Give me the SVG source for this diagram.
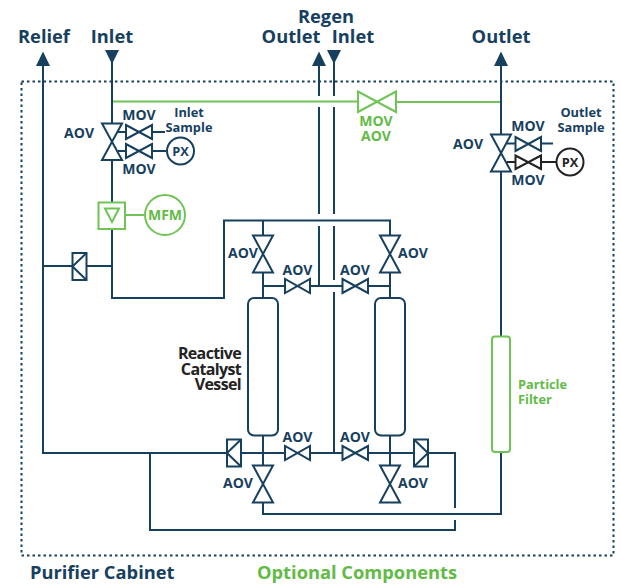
<svg xmlns="http://www.w3.org/2000/svg" width="621" height="586" viewBox="0 0 621 586">
<style>
text{font-family:"Open Sans","Liberation Sans",sans-serif;font-weight:700;fill:#17405f}
.h{font-size:18.3px}.s{font-size:14px}.t{font-size:12.8px}.v{font-size:16px;letter-spacing:-.65px;fill:#222}
.g{fill:#62bb46}.k{fill:#222}
.ln{fill:none;stroke:#17405f;stroke-width:2}
.gl{fill:none;stroke:#70c455;stroke-width:2}
.kl{fill:none;stroke:#222;stroke-width:2}
.ah{fill:#17405f;stroke:none}
</style>
<rect width="621" height="586" fill="#fff"/>
<rect id="cabinet" x="21.500" y="81.500" width="592" height="474" fill="none" stroke="#17405f" stroke-width="2" stroke-dasharray="2.500 3"/>
<g id="connectors">
<path class="ln" d="M43 62V453H227M241 453H285M310 453H342M368 453H414M428 453H455V508M455 520V530H150V453"/>
<path class="ln" d="M112 60V123M112 160V202M112 229V298H224V220.500H390V235M263 220.500V235M263 273V298M390 273V298"/>
<path class="ln" d="M43 266H72M86 266H112"/>
<path class="ln" d="M319 62V96M319 107V214M319 226V286M334 60V96M334 107V214M334 226V280M334 292V453"/>
<path class="ln" d="M263 286H285M310 286H342M368 286H390"/>
<path class="ln" d="M263 436V465M390 436V465M263 503V514H501V452M501 336V172M501 134V62"/>
<path class="ln" d="M118 132H126M152 132H165M118 151H126M152 151H166"/>
<path class="ln" d="M507 143.500H515M541 143.500H553"/>
<path class="kl" d="M507 162H515M541 162H556"/>
<path class="gl" d="M113 101.500H358M396 102H500M125 215H144"/>
<path class="ah" d="M36 66H50L43 51.500ZM105 50H119L112 64ZM312 66H326L319 51.500ZM327 50H341L334 64ZM494 66H508L501 51.500Z"/>
</g>
<g id="relief-label"><text class="h" x="44" y="43" text-anchor="middle">Relief</text></g>
<g id="inlet-label"><text class="h" x="112" y="43" text-anchor="middle">Inlet</text></g>
<g id="regen-labels"><text class="h" x="326" y="23" text-anchor="middle">Regen</text><text class="h" x="291" y="43" text-anchor="middle">Outlet</text><text class="h" x="353" y="43" text-anchor="middle">Inlet</text></g>
<g id="outlet-label"><text class="h" x="501" y="43" text-anchor="middle">Outlet</text></g>
<g id="aov-inlet"><path class="ln" d="M102 123.500H122L102 160H122Z"/><text class="s" x="94" y="138" text-anchor="end">AOV</text></g>
<g id="mov-inlet-1"><path class="ln" d="M126 125V139L152 125V139Z"/><text class="s" x="139" y="120" text-anchor="middle">MOV</text></g>
<g id="mov-inlet-2"><path class="ln" d="M126 144V158L152 144V158Z"/><text class="s" x="139" y="174" text-anchor="middle">MOV</text></g>
<g id="inlet-sample"><text class="t" x="189" y="116.500" text-anchor="middle">Inlet</text><text class="t" x="189" y="131.500" text-anchor="middle">Sample</text></g>
<g id="px-inlet"><circle class="ln" cx="180.500" cy="151" r="13.500" fill="#fff"/><text class="t" x="180.500" y="155.500" text-anchor="middle">PX</text></g>
<g id="mfc"><rect class="gl" x="98.500" y="202.500" width="26.500" height="26.500"/><path class="gl" d="M105 208.500H119L112 222Z"/></g>
<g id="mfm"><circle class="gl" cx="165" cy="215" r="20"/><text class="s g" x="165" y="220" text-anchor="middle">MFM</text></g>
<g id="check-1"><rect class="ln" x="72.500" y="253" width="14" height="27"/><path class="ln" d="M86.500 253L72.500 266.500L86.500 280"/></g>
<g id="mov-aov-optional"><path class="gl" d="M358 91.500V112L396 91.500V112Z"/><text class="s g" x="376" y="126" text-anchor="middle">MOV</text><text class="s g" x="376" y="141" text-anchor="middle">AOV</text></g>
<g id="aov-outlet"><path class="ln" d="M491 134.500H511L491 171.500H511Z"/><text class="s" x="483" y="149" text-anchor="end">AOV</text></g>
<g id="mov-outlet-1"><path class="ln" d="M515.500 137V151L541 137V151Z"/><text class="s" x="528" y="131" text-anchor="middle">MOV</text></g>
<g id="mov-outlet-2"><path class="kl" d="M515.500 155.500V169L541 155.500V169Z"/><text class="s" x="528" y="185" text-anchor="middle">MOV</text></g>
<g id="outlet-sample"><text class="t" x="581" y="117" text-anchor="middle">Outlet</text><text class="t" x="581" y="131.500" text-anchor="middle">Sample</text></g>
<g id="px-outlet"><circle class="kl" cx="570" cy="162" r="13.500" fill="#fff"/><text class="t k" x="570" y="166.500" text-anchor="middle">PX</text></g>
<g id="aov-top-left"><path class="ln" d="M253 235.500H273L253 272.500H273Z"/><text class="s" x="243" y="258" text-anchor="middle">AOV</text></g>
<g id="aov-top-right"><path class="ln" d="M380 235.500H400L380 272.500H400Z"/><text class="s" x="413" y="258" text-anchor="middle">AOV</text></g>
<g id="aov-mid-left"><path class="ln" d="M285 279V293L310 279V293Z"/><text class="s" x="297.500" y="275" text-anchor="middle">AOV</text></g>
<g id="aov-mid-right"><path class="ln" d="M342.500 279V293L368 279V293Z"/><text class="s" x="355" y="275" text-anchor="middle">AOV</text></g>
<g id="vessel-left"><rect class="ln" x="248" y="298" width="30" height="137.500" rx="6" fill="#fff"/></g>
<g id="vessel-right"><rect class="ln" x="375" y="298" width="30" height="137.500" rx="6" fill="#fff"/></g>
<g id="vessel-label"><text class="v" x="241" y="359" text-anchor="end">Reactive</text><text class="v" x="241" y="375" text-anchor="end">Catalyst</text><text class="v" x="241" y="390" text-anchor="end">Vessel</text></g>
<g id="aov-low-mid-left"><path class="ln" d="M285 446V460L310 446V460Z"/><text class="s" x="297.500" y="442" text-anchor="middle">AOV</text></g>
<g id="aov-low-mid-right"><path class="ln" d="M342.500 446V460L368 446V460Z"/><text class="s" x="355" y="442" text-anchor="middle">AOV</text></g>
<g id="check-2"><rect class="ln" x="227" y="439.500" width="14" height="27"/><path class="ln" d="M241 439.500L227 453L241 466.500"/></g>
<g id="check-3"><rect class="ln" x="414" y="439.500" width="14" height="27"/><path class="ln" d="M414 439.500L428 453L414 466.500"/></g>
<g id="aov-bottom-left"><path class="ln" d="M253 465.500H273L253 502.500H273Z"/><text class="s" x="238" y="488" text-anchor="middle">AOV</text></g>
<g id="aov-bottom-right"><path class="ln" d="M380 465.500H400L380 502.500H400Z"/><text class="s" x="413" y="488" text-anchor="middle">AOV</text></g>
<g id="particle-filter"><rect class="gl" x="492" y="336.500" width="18" height="115.500" rx="3" fill="#fff"/><text class="t g" x="518" y="389">Particle</text><text class="t g" x="518" y="404">Filter</text></g>
<g id="legend"><text class="h" x="30" y="579">Purifier Cabinet</text><text class="h g" x="257" y="579">Optional Components</text></g>
</svg>
